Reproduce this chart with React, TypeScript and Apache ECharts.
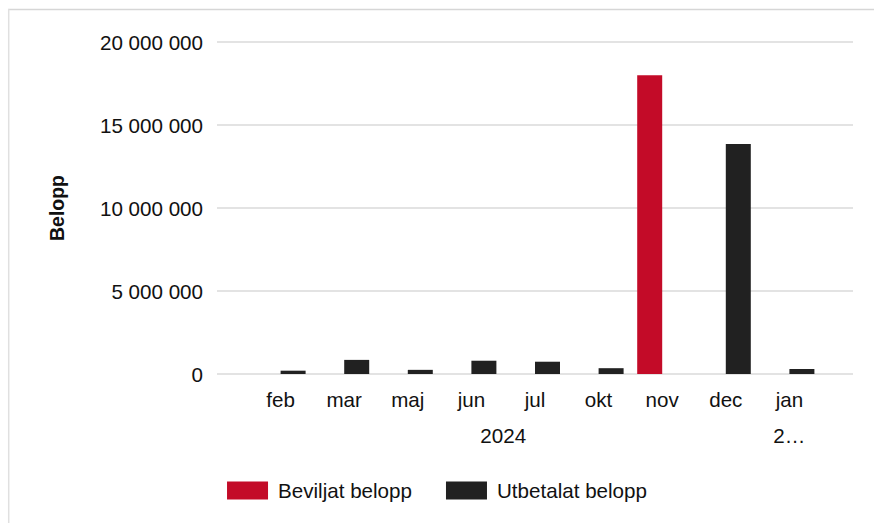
import React, { useEffect, useRef } from "react";
import * as echarts from "echarts";

const categories = ["", "feb", "mar", "maj", "jun", "jul", "okt", "nov", "dec", "jan", ""];
const beviljat = [null, 0, 0, 0, 0, 0, 0, 18000000, 0, 0, null];
const utbetalat = [null, 200000, 850000, 250000, 800000, 740000, 350000, 0, 13850000, 300000, null];
const yearLabels: Record<string, string> = { "4.5": "2024", "9": "2…" };
const seriesNames = ["Beviljat belopp", "Utbetalat belopp"];

const FONT = "'Liberation Sans', Arial, Helvetica, sans-serif";
const FS = 20.6;

export default function App() {
  const ref = useRef<HTMLDivElement>(null);
  useEffect(() => {
    if (!ref.current) return;
    const chart = echarts.init(ref.current, null, { renderer: "svg" });
    chart.setOption({
      animation: false,
      textStyle: { fontFamily: FONT },
      graphic: [
        { type: "line", shape: { x1: 8, y1: 9.6, x2: 874, y2: 9.6 }, style: { stroke: "#d6d6d6", lineWidth: 1.5 } },
        { type: "line", shape: { x1: 8.7, y1: 9, x2: 8.7, y2: 523 }, style: { stroke: "#e0e0e0", lineWidth: 1.5 } },
      ],
      grid: { left: 217, right: 21, top: 42, bottom: 149, containLabel: false },
      legend: {
        bottom: 17,
        left: "center",
        itemWidth: 41,
        itemHeight: 18,
        itemGap: 34,
        icon: "rect",
        textStyle: { fontSize: FS, color: "#111", fontFamily: FONT, padding: [0, 0, 0, 5] },
        data: seriesNames,
      },
      xAxis: [
        {
          type: "category",
          data: categories,
          boundaryGap: false,
          axisLine: { show: false },
          axisTick: { show: false },
          splitLine: { show: false },
          axisLabel: { interval: 0, fontSize: FS, color: "#111", margin: 15, fontFamily: FONT },
        },
        {
          type: "value",
          min: 0,
          max: 10,
          interval: 0.5,
          position: "bottom",
          axisLine: { show: false },
          axisTick: { show: false },
          splitLine: { show: false },
          axisLabel: {
            fontSize: FS,
            color: "#111",
            margin: 51,
            fontFamily: FONT,
            formatter: (v: number) => yearLabels[String(v)] ?? "",
          },
        },
      ],
      yAxis: {
        type: "value",
        min: 0,
        max: 20000000,
        interval: 5000000,
        name: "Belopp",
        nameLocation: "middle",
        nameRotate: 90,
        nameGap: 150,
        nameTextStyle: { fontSize: 19.5, fontWeight: "bold", color: "#111", fontFamily: FONT },
        axisLine: { show: false },
        axisTick: { show: false },
        splitLine: { lineStyle: { color: "#e3e3e3", width: 2 } },
        axisLabel: {
          fontSize: FS,
          color: "#111",
          margin: 14,
          fontFamily: FONT,
          formatter: (v: number) => String(v).replace(/\B(?=(\d{3})+(?!\d))/g, " "),
        },
      },
      series: [
        {
          name: seriesNames[0],
          type: "bar",
          data: beviljat,
          barWidth: 25,
          barGap: "0%",
          itemStyle: { color: "#c30b28" },
        },
        {
          name: seriesNames[1],
          type: "bar",
          data: utbetalat,
          barWidth: 25,
          barGap: "0%",
          itemStyle: { color: "#212121" },
        },
      ],
    });
    return () => chart.dispose();
  }, []);
  return (
    <div
      ref={ref}
      style={{ position: "absolute", left: 0, top: 0, width: 874, height: 523, background: "#fff" }}
    />
  );
}
